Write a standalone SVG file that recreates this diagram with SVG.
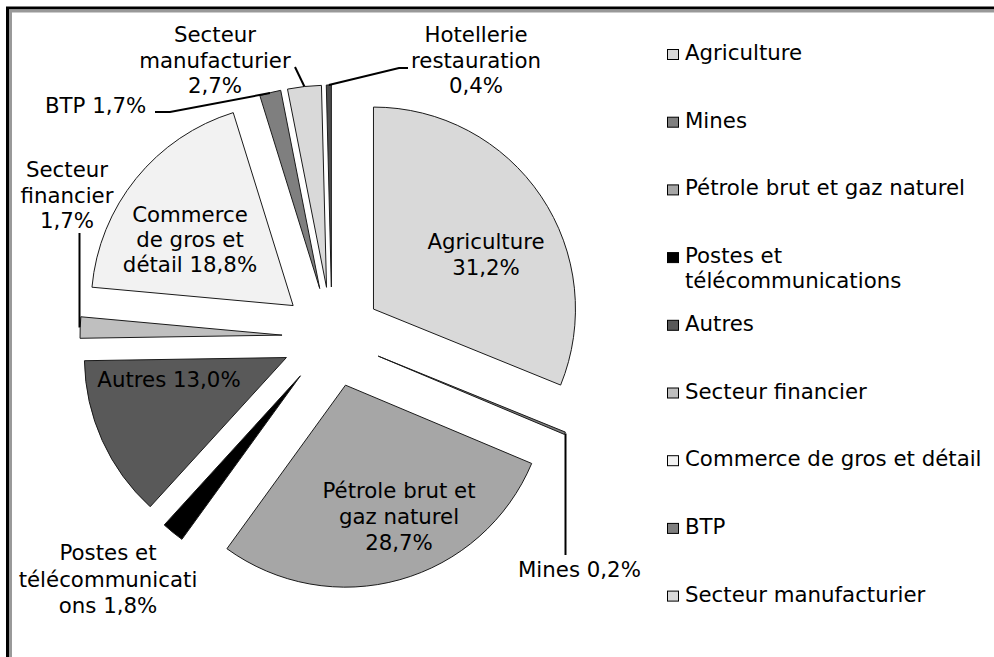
<svg xmlns="http://www.w3.org/2000/svg" width="994" height="657" viewBox="0 0 994 657">
<style>
text{font-family:"DejaVu Sans","Liberation Sans",sans-serif;font-size:21.3px;fill:#000}
.c{text-anchor:middle}
.s{stroke:#1a1a1a;stroke-width:1;stroke-linejoin:miter}
.lead{fill:none;stroke:#000;stroke-width:2}
.lg{stroke:#000;stroke-width:1}
</style>
<rect x="0" y="0" width="994" height="657" fill="#fff"/>
<g id="frame">
<path d="M7.5,657 V8 H994" fill="none" stroke="#000" stroke-width="3"/>
<path d="M10.5,657 V11 H994" fill="none" stroke="#999" stroke-width="3"/>
</g>
<g id="slice-agriculture"><path class="s" fill="#d9d9d9" d="M373.47,309.07 L373.47,107.07 A202,202 0 0 1 560.63,385.07 Z"/></g>
<g id="slice-mines"><path class="s" fill="#808080" d="M378.21,356.10 L565.37,432.10 A202,202 0 0 1 564.42,434.41 Z"/></g>
<g id="slice-petrole"><path class="s" fill="#a6a6a6" d="M345.47,385.15 L531.68,463.46 A202,202 0 0 1 226.93,548.71 Z"/></g>
<g id="slice-postes"><path class="s" fill="#000" d="M300.42,375.77 L181.88,539.33 A202,202 0 0 1 164.21,524.94 Z"/></g>
<g id="slice-autres"><path class="s" fill="#595959" d="M286.41,357.54 L150.20,506.71 A202,202 0 0 1 84.43,360.71 Z"/></g>
<g id="slice-financier"><path class="s" fill="#bfbfbf" d="M282.04,335.12 L80.06,338.29 A202,202 0 0 1 80.87,316.78 Z"/></g>
<g id="slice-commerce"><path class="s" fill="#f2f2f2" d="M293.13,305.55 L91.96,287.21 A202,202 0 0 1 233.23,112.64 Z"/></g>
<g id="slice-btp"><path class="s" fill="#7f7f7f" d="M319.74,288.53 L259.84,95.62 A202,202 0 0 1 280.71,90.34 Z"/></g>
<g id="slice-manufacturier"><path class="s" fill="#d9d9d9" d="M326.52,287.30 L287.49,89.11 A202,202 0 0 1 321.44,85.36 Z"/></g>
<g id="slice-hotellerie"><path class="s" fill="#4d4d4d" d="M331.37,287.00 L326.29,85.06 A202,202 0 0 1 331.37,85.00 Z"/></g>
<g id="connectors">
<polyline class="lead" points="155,112 170,112 270,93"/>
<polyline class="lead" points="295,67 304.4,86.5"/>
<polyline class="lead" points="328.8,85 399,68 408,68"/>
<polyline class="lead" points="79.5,233 79.5,327.5"/>
<polyline class="lead" points="565.5,433.5 565.5,555"/>
</g>
<g id="labels">
<text class="c" x="215" y="42">Secteur</text>
<text class="c" x="215" y="67.5">manufacturier</text>
<text class="c" x="215" y="93">2,7%</text>
<text class="c" x="476" y="42">Hotellerie</text>
<text class="c" x="476" y="67.5">restauration</text>
<text class="c" x="476" y="93">0,4%</text>
<text x="45" y="113">BTP 1,7%</text>
<text class="c" x="67" y="177">Secteur</text>
<text class="c" x="67" y="203">financier</text>
<text class="c" x="67" y="228">1,7%</text>
<text class="c" x="190" y="222">Commerce</text>
<text class="c" x="190" y="247">de gros et</text>
<text class="c" x="190" y="272">détail 18,8%</text>
<text class="c" x="486" y="249">Agriculture</text>
<text class="c" x="486" y="275">31,2%</text>
<text class="c" x="169" y="387">Autres 13,0%</text>
<text class="c" x="399" y="498">Pétrole brut et</text>
<text class="c" x="399" y="524">gaz naturel</text>
<text class="c" x="399" y="550">28,7%</text>
<text class="c" x="108" y="560">Postes et</text>
<text class="c" x="108" y="587">télécommunicati</text>
<text class="c" x="108" y="613">ons 1,8%</text>
<text x="518" y="577">Mines 0,2%</text>
</g>
<g id="legend">
<rect class="lg" x="667.5" y="49.5" width="11" height="10" fill="#d9d9d9"/><text x="685" y="60">Agriculture</text>
<rect class="lg" x="667.5" y="117.2" width="11" height="10" fill="#808080"/><text x="685" y="127.7">Mines</text>
<rect class="lg" x="667.5" y="184.9" width="11" height="10" fill="#a6a6a6"/><text x="685" y="195.4">Pétrole brut et gaz naturel</text>
<rect class="lg" x="667.5" y="252.6" width="11" height="10" fill="#000"/><text x="685" y="263.1">Postes et</text><text x="685" y="287.5">télécommunications</text>
<rect class="lg" x="667.5" y="320.3" width="11" height="10" fill="#595959"/><text x="685" y="330.8">Autres</text>
<rect class="lg" x="667.5" y="388" width="11" height="10" fill="#bfbfbf"/><text x="685" y="398.5">Secteur financier</text>
<rect class="lg" x="667.5" y="455.7" width="11" height="10" fill="#f2f2f2"/><text x="685" y="466.2">Commerce de gros et détail</text>
<rect class="lg" x="667.5" y="523.4" width="11" height="10" fill="#7f7f7f"/><text x="685" y="533.9">BTP</text>
<rect class="lg" x="667.5" y="591.1" width="11" height="10" fill="#d9d9d9"/><text x="685" y="601.6">Secteur manufacturier</text>
</g>
</svg>
